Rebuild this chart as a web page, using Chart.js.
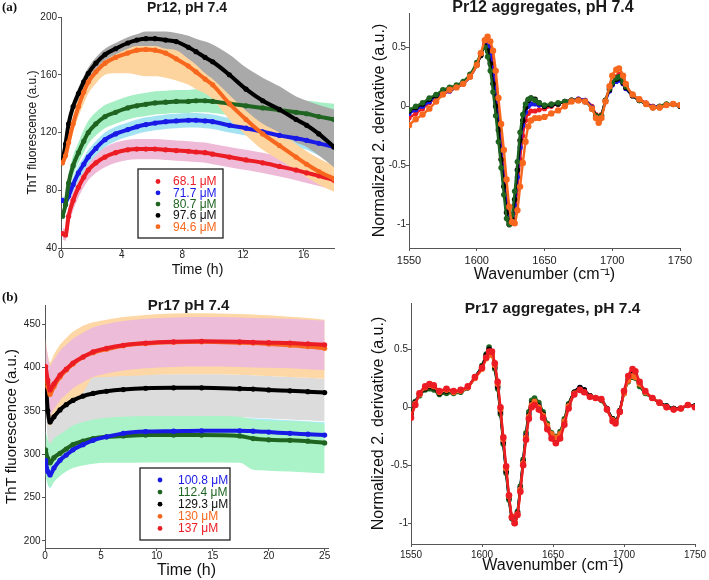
<!DOCTYPE html>
<html>
<head>
<meta charset="utf-8">
<script src="https://cdn.jsdelivr.net/npm/chart.js@4.4.0/dist/chart.umd.min.js"></script>
<style>
  body { margin: 0; background: #fff; }
  #wrap { position: relative; width: 709px; height: 580px; overflow: hidden; }
  canvas { position: absolute; }
</style>
</head>
<body>
<div id="wrap">
  <canvas id="thtA" width="350" height="290" style="left:0;top:0"></canvas>
  <canvas id="irA" width="359" height="290" style="left:350px;top:0"></canvas>
  <canvas id="thtB" width="350" height="290" style="left:0;top:290px"></canvas>
  <canvas id="irB" width="359" height="290" style="left:350px;top:290px"></canvas>
</div>
<script>
// ---- (a) Pr12 ThT kinetics ----
const timeA = [0.1,0.3,0.5,0.8,1.15,1.5,1.8,2.3,2.9,3.6,4.4,5.0,5.6,6.2,6.9,7.6,8.4,8.9,9.5,10,11.1,12.2,13.3,14.4,15.5,16.2,17,18];
const tht681 = [50,49,62,73,82,89,94,99,103,106,108,108.5,108.5,108.5,108,107.5,107,106.5,106,105,103,101,99,96.5,94,92,90,87];
const tht681Lo = [46,45,56,66,75,82,87,92,96,99,101,101.5,101.5,101.5,101,100.5,100,99.5,99,98,96,94,92,89.5,87,85,83,80];
const tht681Hi = [54,53,68,80,89,96,101,106,110,113,115,115.5,115.5,115.5,115,114.5,114,113.5,113,112,110,108,106,103.5,101,99,97,94];
const tht717 = [73,72,76,84,92,98,103,109,115,119,122,124,125.5,126.5,127.5,128,128.5,128.5,128,127.5,125,123,120.5,118,116,114.5,112.5,110];
const tht717Lo = [70,69,72,79,87,93,98,104,110,114,117,119,120.5,121.5,122.5,123,123.5,123.5,123,122.5,120,118,115.5,112,110,108,104,100];
const tht717Hi = [76,75,80,89,97,103,108,114,120,124,127,129,130.5,131.5,132.5,133,133.5,133.5,133,132.5,130,128,125.5,123.5,121.5,120.5,119.5,118];
const tht807 = [62,70,85,97,106,114,120,126,131,134,137,138.5,139.5,140.5,141,141.5,141.5,142,142,141.5,140,138.5,137,135.5,134,133,131,129];
const tht807Lo = [58,65,79,90,99,106,112,118,123,126,129,130.5,131.5,132.5,133,133.5,133.5,134,134,133.5,132,130.5,129,127.5,126,124,121,119];
const tht807Hi = [66,75,91,104,113,122,128,134,139,142,145,146.5,147.5,148.5,149,149.5,149.5,150,150,149.5,148,146.5,145,143.5,142,142,141,140];
const tht976 = [100,112,126,138,147,155,161,168,174,178,182,184,185,185,184,183,179,176,172,169,160,150,142,136,129,125,119,110];
const tht976Lo = [96,108,122,134,143,151,157,164,170,174,178,180,180,180,178,177,171,167,161,157,146,135,126,120,113,110,104,96];
const tht976Hi = [104,116,130,142,151,159,165,172,178,182,186,188,190,190,190,189,187,185,183,181,174,165,158,152,145,142,139,136];
const tht946 = [99,104,113,126,138,148,155,162,168,172,175,177,177.5,177,175,171,166,162,157,153,140,129,119,111,103,98,93,88];
const tht946Lo = [96,100,108,120,131,140,147,154,160,161,161,160,159,159,158,156,153,150,147,143,129,118,108,101,94,89,84,79];
const tht946Hi = [102,108,118,132,145,156,163,170,176,181,185,187,188,188,188,186,179,174,167,163,151,140,130,121,112,107,102,97];

// ---- (a) Pr12 aggregates, 2nd derivative spectra ----
const wn12 = [1550,1555,1560,1565,1570,1575,1580,1585,1590,1595,1600,1603,1606,1608,1610,1612,1614,1616,1618,1620,1622,1624,1626,1628,1630,1632,1634,1636,1638,1640,1643,1646,1650,1655,1660,1665,1670,1675,1680,1685,1688,1690,1692,1695,1698,1700,1703,1705,1708,1710,1715,1720,1725,1730,1735,1740,1745,1750];
const ir12red = [-0.1,-0.06,-0.02,0.03,0.07,0.1,0.13,0.16,0.19,0.25,0.35,0.44,0.53,0.56,0.5,0.35,0.15,-0.08,-0.32,-0.56,-0.8,-0.95,-0.99,-0.9,-0.7,-0.45,-0.25,-0.12,-0.06,-0.04,-0.04,-0.03,-0.02,0.0,0.02,0.04,0.05,0.06,0.05,0.0,-0.07,-0.12,-0.07,0.05,0.15,0.2,0.25,0.27,0.23,0.18,0.1,0.06,0.03,0.0,-0.01,0.01,0.02,0.01];
const ir12blue = [-0.06,-0.03,0.0,0.04,0.08,0.11,0.13,0.16,0.19,0.25,0.35,0.44,0.52,0.55,0.45,0.28,0.08,-0.14,-0.38,-0.62,-0.85,-0.98,-0.98,-0.84,-0.6,-0.35,-0.16,-0.05,0.0,0.02,0.02,0.01,0.0,0.01,0.02,0.04,0.05,0.06,0.05,-0.01,-0.08,-0.12,-0.08,0.04,0.13,0.18,0.21,0.22,0.19,0.15,0.09,0.05,0.02,0.0,0.0,0.01,0.02,0.01];
const ir12green = [-0.03,0.0,0.03,0.07,0.1,0.14,0.16,0.18,0.21,0.27,0.37,0.45,0.5,0.42,0.3,0.12,-0.08,-0.3,-0.52,-0.75,-0.95,-1.0,-0.92,-0.72,-0.47,-0.22,-0.07,0.02,0.06,0.07,0.05,0.03,0.01,0.02,0.03,0.04,0.05,0.05,0.04,-0.02,-0.08,-0.12,-0.08,0.05,0.15,0.2,0.24,0.25,0.21,0.17,0.1,0.05,0.02,-0.01,0.0,0.02,0.02,0.01];
const ir12black = [-0.04,-0.01,0.02,0.06,0.09,0.13,0.15,0.17,0.2,0.26,0.35,0.43,0.51,0.47,0.36,0.19,0.0,-0.2,-0.45,-0.68,-0.9,-1.0,-0.96,-0.79,-0.54,-0.29,-0.12,-0.01,0.05,0.07,0.06,0.03,0.0,0.01,0.02,0.04,0.05,0.055,0.04,-0.02,-0.08,-0.13,-0.08,0.05,0.14,0.19,0.23,0.24,0.2,0.16,0.09,0.05,0.02,-0.01,-0.01,0.015,0.015,0.0];
const ir12orange = [-0.16,-0.11,-0.07,-0.02,0.04,0.1,0.14,0.16,0.19,0.25,0.35,0.45,0.56,0.59,0.55,0.47,0.3,0.07,-0.15,-0.37,-0.62,-0.85,-0.98,-0.99,-0.88,-0.68,-0.48,-0.3,-0.17,-0.12,-0.1,-0.1,-0.09,-0.06,-0.035,0.0,0.04,0.05,0.04,-0.02,-0.1,-0.14,-0.1,0.04,0.17,0.26,0.31,0.32,0.26,0.19,0.1,0.06,0.02,-0.01,-0.01,0.01,0.02,0.01];

// ---- (b) Pr17 ThT kinetics ----
const timeB = [0.05,0.25,0.45,0.8,1.34,1.9,2.5,3.4,4.3,5.5,7,9,11.5,14,17.4,18.6,20,21.9,23.5,25];
const tht1008 = [293,280,276,284,293,299,305,311,316,320,324,326,326.5,327,327,326.5,325.5,324,323,322];
const tht1008Lo = [278,265,261,269,278,284,290,296,301,305,309,311,311.5,312,312,311.5,310.5,309,308,307];
const tht1008Hi = [308,295,291,299,308,314,320,326,331,335,339,341,341.5,342,342,341.5,340.5,339,338,337];
const tht1124 = [305,295,290,296,301,306,311,315,318,320,321,322,322,322,321,318,316.5,316,315,313];
const tht1124Lo = [275,266,262,268,275,280,284,287,289,290,290,290.5,290.5,290.5,290,282,281,280,279,278];
const tht1124Hi = [327,317,312,318,323,328,333,337,340,342,343,344,344,344,343,340,338.5,338,337,335];
const tht1293 = [388,350,337,343,351,357,362,367,370,372.5,374.5,376,376.5,376.5,375.5,375,374,373,372,371];
const tht1293Lo = [355,317,304,310,318,324,329,334,337,339.5,341.5,343,343.5,343.5,342.5,342,341,340,339,338];
const tht1293Hi = [380,360,350,356,364,370,375,380,389,390,391,392,392,392,391.5,391,390,389,388,387];
const tht130 = [396,378,369,378,389,397,404,412,417,421,425,427.5,429,429.5,428.5,428,427,425.5,424,422];
const tht130Lo = [359,341,332,341,352,358,364,371,388,389,390,391,392,392,391.5,391,390,389,388,387];
const tht130Hi = [433,415,406,415,426,434,441,448,452,455,458,460.5,462,462.5,461.5,461,460,458.5,457,455];
const tht137 = [401,385,374,381,391,398,405,412,418,422,425.5,428,429.5,430,429.5,429,428.5,428,427,426];
const tht137Lo = [372,356,345,352,362,369,376,383,389,393,396.5,399,400.5,401,400.5,400,399.5,399,398,397];
const tht137Hi = [429,413,402,409,419,426,433,440,446,450,453.5,456,457.5,458,457.5,457,456.5,456,455,454];

// ---- (b) Pr17 aggregates, 2nd derivative spectra ----
const wn17 = [1550,1553,1556,1560,1563,1566,1570,1575,1580,1585,1590,1595,1600,1603,1605,1607,1609,1611,1613,1615,1617,1619,1621,1623,1625,1627,1629,1631,1633,1635,1637,1640,1643,1646,1649,1652,1655,1658,1661,1665,1669,1672,1676,1680,1684,1688,1692,1694,1697,1700,1703,1706,1708,1711,1715,1720,1725,1730,1735,1740,1745,1750];
const ir17blue = [-0.06,0.05,0.11,0.16,0.17,0.16,0.12,0.13,0.13,0.14,0.17,0.26,0.35,0.45,0.5,0.47,0.34,0.17,-0.05,-0.31,-0.56,-0.79,-0.96,-1.0,-0.9,-0.69,-0.46,-0.23,-0.05,0.05,0.07,0.03,-0.05,-0.15,-0.23,-0.26,-0.22,-0.11,0.02,0.13,0.17,0.15,0.1,0.08,0.07,-0.01,-0.1,-0.12,-0.03,0.13,0.24,0.28,0.27,0.2,0.13,0.08,0.04,0.01,-0.01,-0.01,0.02,0.01];
const ir17green = [-0.05,0.05,0.1,0.15,0.16,0.15,0.11,0.12,0.12,0.13,0.17,0.26,0.36,0.46,0.52,0.46,0.33,0.16,-0.06,-0.32,-0.57,-0.8,-0.96,-1.0,-0.9,-0.68,-0.45,-0.22,-0.04,0.06,0.08,0.04,-0.04,-0.14,-0.22,-0.25,-0.21,-0.1,0.03,0.13,0.16,0.14,0.1,0.08,0.06,-0.02,-0.1,-0.12,-0.03,0.12,0.22,0.26,0.25,0.18,0.12,0.08,0.04,0.01,-0.01,-0.01,0.02,0.01];
const ir17black = [-0.06,0.04,0.11,0.16,0.18,0.17,0.12,0.14,0.13,0.14,0.17,0.26,0.35,0.45,0.5,0.47,0.35,0.18,-0.04,-0.3,-0.55,-0.78,-0.95,-1.0,-0.91,-0.7,-0.47,-0.25,-0.07,0.03,0.05,0.01,-0.06,-0.17,-0.25,-0.28,-0.24,-0.12,0.02,0.13,0.17,0.15,0.1,0.08,0.07,-0.01,-0.1,-0.12,-0.03,0.13,0.24,0.29,0.28,0.2,0.13,0.08,0.04,0.01,-0.01,-0.01,0.02,0.01];
const ir17orange = [-0.08,0.03,0.11,0.17,0.19,0.18,0.13,0.15,0.13,0.14,0.17,0.25,0.33,0.42,0.46,0.45,0.36,0.2,-0.02,-0.28,-0.53,-0.77,-0.94,-1.0,-0.92,-0.71,-0.48,-0.26,-0.08,0.02,0.05,0.0,-0.07,-0.16,-0.23,-0.26,-0.23,-0.12,0.01,0.12,0.15,0.13,0.09,0.08,0.07,-0.02,-0.11,-0.13,-0.04,0.12,0.23,0.27,0.26,0.2,0.13,0.08,0.04,0.0,-0.02,-0.01,0.02,0.0];
const ir17red = [-0.09,0.02,0.12,0.18,0.2,0.19,0.14,0.16,0.14,0.15,0.18,0.26,0.34,0.43,0.48,0.48,0.38,0.22,0.0,-0.26,-0.51,-0.76,-0.95,-1.0,-0.93,-0.73,-0.5,-0.28,-0.1,0.0,0.02,-0.02,-0.09,-0.19,-0.27,-0.31,-0.27,-0.15,-0.01,0.11,0.15,0.13,0.09,0.08,0.07,-0.02,-0.12,-0.14,-0.04,0.14,0.27,0.33,0.31,0.22,0.14,0.08,0.04,0.0,-0.02,-0.01,0.02,0.0];

// labels and ticks
const concA = ['68.1 μM', '71.7 μM', '80.7 μM', '97.6 μM', '94.6 μM'];
const concB = ['100.8 μM', '112.4 μM', '129.3 μM', '130 μM', '137 μM'];
const timeTicksA = [0, 4, 8, 12, 16];
const thtTicksA = [40, 80, 120, 160, 200];
const timeTicksB = [0, 5, 10, 15, 20, 25];
const thtTicksB = [200, 250, 300, 350, 400, 450];
const wnTicks = [1550, 1600, 1650, 1700, 1750];
const derivTicks = [-1, -0.5, 0, 0.5];

const RED = '#ec1c24', BLUE = '#1a1ae6', GREEN = '#1f6420', BLACK = '#000000', ORANGE = '#f7681e';
const FONT = '"Liberation Sans", Arial, sans-serif';
Chart.defaults.font.family = FONT;
Chart.defaults.color = '#222';

function xy(xs, ys) {
  return xs.map((x, i) => ({ x: x, y: ys[i] }));
}

function series(label, xs, ys, color, order, radius, width, textColor) {
  return {
    label: label, isSeries: true, legendColor: textColor || color,
    data: xy(xs, ys), borderColor: color, backgroundColor: color,
    pointBackgroundColor: color, pointBorderWidth: 0, pointRadius: radius,
    borderWidth: width, fill: false, order: order, cubicInterpolationMode: 'monotone'
  };
}

function band(xs, lo, hi, color, order) {
  return [
    { data: xy(xs, lo), borderColor: 'transparent', borderWidth: 0, pointRadius: 0, fill: false, order: order, cubicInterpolationMode: 'monotone' },
    { data: xy(xs, hi), borderColor: 'transparent', borderWidth: 0, pointRadius: 0, fill: '-1', backgroundColor: color, order: order, cubicInterpolationMode: 'monotone' }
  ];
}

// titles, panel letters and the boxed legends
const panelDeco = {
  id: 'panelDeco',
  afterDraw(chart, args, o) {
    const ctx = chart.ctx;
    ctx.save();
    ctx.textBaseline = 'middle';
    if (o.title) {
      ctx.font = 'bold ' + o.titleSize + 'px ' + FONT;
      ctx.fillStyle = '#1a1a1a';
      ctx.textAlign = 'center';
      ctx.fillText(o.title, o.titleX, o.titleY);
    }
    if (o.tag) {
      ctx.font = 'bold 13px "Liberation Serif", "Times New Roman", serif';
      ctx.fillStyle = '#111';
      ctx.textAlign = 'left';
      ctx.fillText(o.tag, o.tagX, o.tagY);
    }
    if (o.legend) {
      const L = o.legend;
      ctx.fillStyle = '#fff';
      ctx.fillRect(L.x, L.y, L.w, L.h);
      ctx.strokeStyle = '#222';
      ctx.lineWidth = 1.3;
      ctx.strokeRect(L.x, L.y, L.w, L.h);
      ctx.font = '12px ' + FONT;
      ctx.textAlign = 'left';
      chart.data.datasets.filter(d => d.isSeries).forEach((d, i) => {
        const y = L.firstRow + i * L.rowGap;
        ctx.fillStyle = d.borderColor;
        ctx.beginPath();
        ctx.arc(L.markX, y, 2.4, 0, Math.PI * 2);
        ctx.fill();
        ctx.fillStyle = d.legendColor;
        ctx.fillText(d.label, L.textX, y + 0.5);
      });
    }
    ctx.restore();
  }
};

function makeChart(id, datasets, g) {
  return new Chart(document.getElementById(id), {
    type: 'line',
    data: { datasets: datasets },
    options: {
      responsive: false,
      animation: false,
      events: [],
      layout: { padding: { left: 0, top: g.top, right: g.right, bottom: 0 } },
      plugins: { legend: { display: false }, tooltip: { enabled: false }, panelDeco: g.deco },
      scales: {
        x: {
          type: 'linear', min: g.xMin, max: g.xMax,
          afterFit: s => { s.height = g.xH; },
          afterBuildTicks: s => { s.ticks = g.xTicks.map(v => ({ value: v })); },
          grid: { drawOnChartArea: false, tickLength: 3, color: '#555' },
          border: { color: '#555', width: 1 },
          ticks: { autoSkip: false, maxRotation: 0, padding: g.xPad, font: { size: g.xFont }, color: '#222', callback: v => String(v) },
          title: { display: true, text: g.xTitle, font: { size: g.xTitleSize }, color: '#111', padding: { top: 0, bottom: g.xTitlePad } }
        },
        y: {
          type: 'linear', min: g.yMin, max: g.yMax,
          afterFit: s => { s.width = g.yW; },
          afterBuildTicks: s => { s.ticks = g.yTicks.map(v => ({ value: v })); },
          grid: { drawOnChartArea: false, tickLength: 3, color: '#555' },
          border: { color: '#555', width: 1 },
          ticks: { autoSkip: false, padding: g.yPad, font: { size: 10 }, color: '#222', callback: v => String(v) },
          title: { display: true, text: g.yTitle, font: { size: g.yTitleSize }, color: '#111', padding: { top: g.yTitlePad, bottom: 0 } }
        }
      }
    },
    plugins: [panelDeco]
  });
}

// (a) left
const dsThtA = [
  series(concA[0], timeA, tht681, RED, 5, 2.6, 4),
  series(concA[1], timeA, tht717, BLUE, 4, 2.6, 4),
  series(concA[2], timeA, tht807, GREEN, 3, 2.6, 4),
  series(concA[3], timeA, tht976, BLACK, 2, 2.6, 4, '#111'),
  series(concA[4], timeA, tht946, ORANGE, 1, 2.6, 4)
].concat(
  band(timeA, tht976Lo, tht976Hi, '#a9a9a9', 10),
  band(timeA, tht946Lo, tht946Hi, '#fdd49e', 11),
  band(timeA, tht807Lo, tht807Hi, '#a6efc4', 12),
  band(timeA, tht717Lo, tht717Hi, '#a4e4f2', 13),
  band(timeA, tht681Lo, tht681Hi, '#efbad7', 14)
);
makeChart('thtA', dsThtA, {
  top: 17, right: 16, xH: 42, yW: 61,
  xMin: 0, xMax: 18, xTicks: timeTicksA, yMin: 40, yMax: 200, yTicks: thtTicksA,
  xPad: -2, xFont: 10, xTitle: 'Time (h)', xTitleSize: 14, xTitlePad: 11.6,
  yPad: 1, yTitle: 'ThT fluorescence (a.u.)', yTitleSize: 12, yTitlePad: 25,
  deco: { title: 'Pr12, pH 7.4', titleSize: 14, titleX: 187, titleY: 8, tag: '(a)', tagX: 2, tagY: 8,
          legend: { x: 138, y: 169, w: 85, h: 69, markX: 158, textX: 173, firstRow: 181.5, rowGap: 11.3 } }
});

// (a) right
const dsIrA = [
  series(concA[0], wn12, ir12red, RED, 5, 2.6, 2.4),
  series(concA[1], wn12, ir12blue, BLUE, 4, 2.6, 2.4),
  series(concA[2], wn12, ir12green, GREEN, 2, 2.8, 2.4),
  series(concA[3], wn12, ir12black, BLACK, 3, 2.8, 2.4),
  series(concA[4], wn12, ir12orange, ORANGE, 1, 3.2, 2.4)
];
makeChart('irA', dsIrA, {
  top: 13, right: 29, xH: 42, yW: 59,
  xMin: 1550, xMax: 1750, xTicks: wnTicks, yMin: -1.2, yMax: 0.79, yTicks: derivTicks,
  xPad: 3, xFont: 11, xTitle: 'Wavenumber (cm⁻¹)', xTitleSize: 16, xTitlePad: 5.4,
  yPad: 0, yTitle: 'Normalized 2. derivative (a.u.)', yTitleSize: 16, yTitlePad: 20,
  deco: { title: 'Pr12 aggregates, pH 7.4', titleSize: 16, titleX: 193, titleY: 8 }
});

// (b) left
const dsThtB = [
  series(concB[0], timeB, tht1008, BLUE, 3, 2.6, 4),
  series(concB[1], timeB, tht1124, GREEN, 4, 2.6, 4),
  series(concB[2], timeB, tht1293, BLACK, 5, 2.6, 4, '#111'),
  series(concB[3], timeB, tht130, ORANGE, 2, 2.6, 4),
  series(concB[4], timeB, tht137, RED, 1, 2.6, 4)
].concat(
  band(timeB, tht137Lo, tht137Hi, '#ecbcd8', 10),
  band(timeB, tht130Lo, tht130Hi, '#fdd7a5', 11),
  band(timeB, tht1124Lo, tht1124Hi, '#aaf2c8', 12),
  band(timeB, tht1008Lo, tht1008Hi, '#a9ecf5', 13),
  band(timeB, tht1293Lo, tht1293Hi, '#dcdcdc', 14)
);
makeChart('thtB', dsThtB, {
  top: 15, right: 22, xH: 32, yW: 45,
  xMin: 0, xMax: 25.3, xTicks: timeTicksB, yMin: 191.9, yMax: 471.9, yTicks: thtTicksB,
  xPad: -1, xFont: 10, xTitle: 'Time (h)', xTitleSize: 16, xTitlePad: 0,
  yPad: 1.5, yTitle: 'ThT fluorescence (a.u.)', yTitleSize: 15, yTitlePad: 3,
  deco: { title: 'Pr17 pH 7.4', titleSize: 15, titleX: 188.5, titleY: 16, tag: '(b)', tagX: 2, tagY: 8,
          legend: { x: 140, y: 178, w: 90, h: 72, markX: 160, textX: 178, firstRow: 190, rowGap: 12.1 } }
});

// (b) right
const dsIrB = [
  series(concB[0], wn17, ir17blue, BLUE, 5, 2.6, 2.4),
  series(concB[1], wn17, ir17green, GREEN, 4, 2.8, 2.4),
  series(concB[2], wn17, ir17black, BLACK, 3, 2.8, 2.4),
  series(concB[3], wn17, ir17orange, ORANGE, 2, 3, 2.4),
  series(concB[4], wn17, ir17red, RED, 1, 3.3, 2.4)
];
makeChart('irB', dsIrB, {
  top: 13, right: 14, xH: 36, yW: 61,
  xMin: 1550, xMax: 1750, xTicks: wnTicks, yMin: -1.18, yMax: 0.9, yTicks: derivTicks,
  xPad: 2, xFont: 10, xTitle: 'Wavenumber (cm⁻¹)', xTitleSize: 16, xTitlePad: 5,
  yPad: 0, yTitle: 'Normalized 2. derivative (a.u.)', yTitleSize: 16, yTitlePad: 19,
  deco: { title: 'Pr17 aggregates, pH 7.4', titleSize: 15.5, titleX: 202.5, titleY: 18.5 }
});
</script>
</body>
</html>
